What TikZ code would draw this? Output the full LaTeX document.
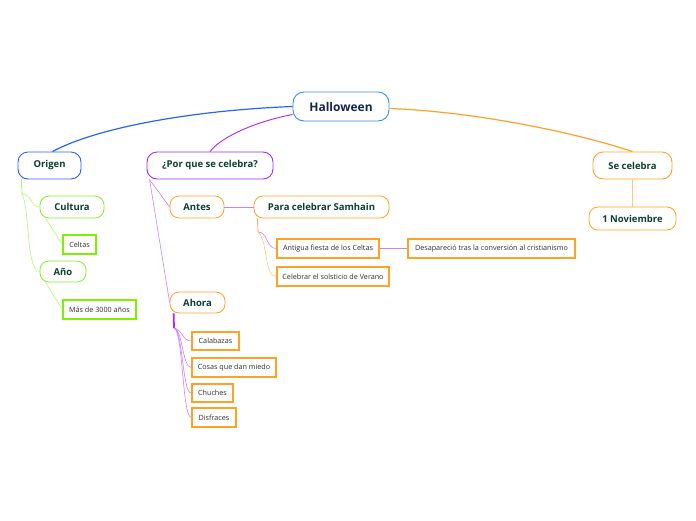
\documentclass[tikz,border=0pt]{standalone}
\usepackage{fontspec}
\setmainfont{Open Sans}
\usepackage{tikz}
\usetikzlibrary{positioning}

\definecolor{hwblue}{HTML}{3A8ED8}
\definecolor{hwtext}{HTML}{16264A}
\definecolor{orgblue}{HTML}{2A62F4}
\definecolor{purp}{HTML}{A52BEF}
\definecolor{purpl}{HTML}{C781FF}
\definecolor{orng}{HTML}{FFA224}
\definecolor{orngl}{HTML}{FFC77A}
\definecolor{grn}{HTML}{8CEB2A}
\definecolor{grnbox}{HTML}{7FF000}
\definecolor{grnl}{HTML}{B9F27A}
\definecolor{txt}{HTML}{0C3F2E}
\definecolor{leaftxt}{HTML}{2E2E2E}

\begin{document}
\begin{tikzpicture}[
      x=1pt, y=-1pt,
      topic/.style={draw, rounded corners=10pt, line width=0.9pt, fill=white, text=txt, font=\bfseries\fontsize{9.5}{11}\selectfont, minimum height=27pt, inner xsep=3pt},
      sub/.style={draw=orng, rounded corners=9pt, line width=0.8pt, fill=white, text=txt, font=\bfseries\fontsize{9.5}{11}\selectfont, minimum height=22pt, inner xsep=3pt},
      leaf/.style={draw=orng, line width=1.5pt, fill=white, text=leaftxt, font=\fontsize{7.2}{8}\selectfont, minimum height=19pt, inner xsep=3pt},
      link/.style={line width=0.6pt}
    ]
    \useasboundingbox (0,0) rectangle (696,520);

    % main topics
    \node[topic, draw=hwblue, text=hwtext, font=\bfseries\fontsize{12}{14}\selectfont, minimum width=96pt, minimum height=29pt, rounded corners=11pt] (hw) at (341,106.5) {Halloween};
    \node[topic, draw=orgblue, minimum width=63pt] (org) at (49.5,165.5) {Origen};
    \node[topic, draw=purp, minimum width=126pt] (why) at (210,165.5) {¿Por que se celebra?};
    \node[topic, draw=orng, minimum width=79pt] (when) at (632.5,165.5) {Se celebra};
    \node[sub, minimum width=87pt, minimum height=23pt] (nov) at (632.5,218.5) {1 Noviembre};

    % origen
    \node[sub, draw=grn, minimum width=64pt] (cul) at (72,207) {Cultura};
    \node[leaf, draw=grnbox, minimum width=33pt] (cel) at (79.5,244.5) {Celtas};
    \node[sub, draw=grn, minimum width=46pt, minimum height=21pt] (ano) at (63,271.5) {Año};
    \node[leaf, draw=grnbox, minimum width=73pt] (mas) at (99.5,309.5) {Más de 3000 años};

    % por que
    \node[sub, minimum width=54pt] (ant) at (197,207) {Antes};
    \node[sub, minimum width=135pt] (sam) at (321.5,207) {Para celebrar Samhain};
    \node[leaf, minimum width=102pt] (fie) at (328,248.5) {Antigua fiesta de los Celtas};
    \node[leaf, minimum width=167pt] (des) at (491.5,248.5) {Desapareció tras la conversión al cristianismo};
    \node[leaf, minimum width=112pt] (sol) at (333,276.5) {Celebrar el solsticio de Verano};
    \node[sub, minimum width=55pt, minimum height=21pt] (aho) at (197.5,302.5) {Ahora};
    \node[leaf, minimum width=47pt, minimum height=18pt] (cal) at (215.5,341) {Calabazas};
    \node[leaf, minimum width=84pt] (cos) at (234,367.5) {Cosas que dan miedo};
    \node[leaf, minimum width=41pt, minimum height=18pt] (chu) at (212.5,393) {Chuches};
    \node[leaf, minimum width=44pt] (dis) at (214,417.5) {Disfraces};

    % branches from the centre
    \draw[orgblue, line width=1.2pt] (hw.west) .. controls (200,110) and (100,126) .. ([xshift=3pt]org.north);
    \draw[purp, line width=0.9pt] ([yshift=-8pt]hw.west) .. controls (258,121) and (222,136) .. (why.north);
    \draw[orng, line width=1.2pt] ([yshift=-2pt]hw.east) .. controls (480,112) and (580,134) .. (when.north);
    \draw[orngl, link] (when) -- (nov);

    % origen links
    \coordinate (orgfork) at (22,194);
    \draw[grn, link] ([xshift=4pt]org.south west) -- (orgfork);
    \draw[grnl, link] (orgfork) .. controls (32,194) and (30,207) .. (cul.west);
    \draw[grnl, link] (orgfork) .. controls (30,210) and (26,271) .. (ano.west);
    \draw[grnl, link] ([xshift=6pt]cul.south west) -- (cel.west);
    \draw[grnl, link] ([xshift=6pt]ano.south west) -- (mas.west);

    % por que links
    \draw[purpl, link] ([xshift=3pt]why.south west) -- (ant.west);
    \draw[purpl, link] ([xshift=3pt]why.south west) -- (aho.west);
    \draw[purpl, link] (ant) -- (sam);
    \coordinate (samfork) at (258,232);
    \draw[orng!80!red, link] ([xshift=4pt]sam.south west) -- (samfork);
    \draw[purpl, link] (samfork) .. controls (268,232) and (266,248.5) .. (fie.west);
    \draw[orngl, link] (samfork) .. controls (268,240) and (264,276.5) .. (sol.west);
    \draw[purpl, link] (fie) -- (des);

    % ahora links
    \coordinate (ahofork) at (174,328);
    \draw[purp, line width=1.8pt] ([xshift=4pt]aho.south west) -- (ahofork);
    \foreach \leafname in {cal, cos, chu, dis}
      \draw[purpl, link] (ahofork) .. controls +(9,2) and +(-9,0) .. (\leafname.west);
\end{tikzpicture}
\end{document}
